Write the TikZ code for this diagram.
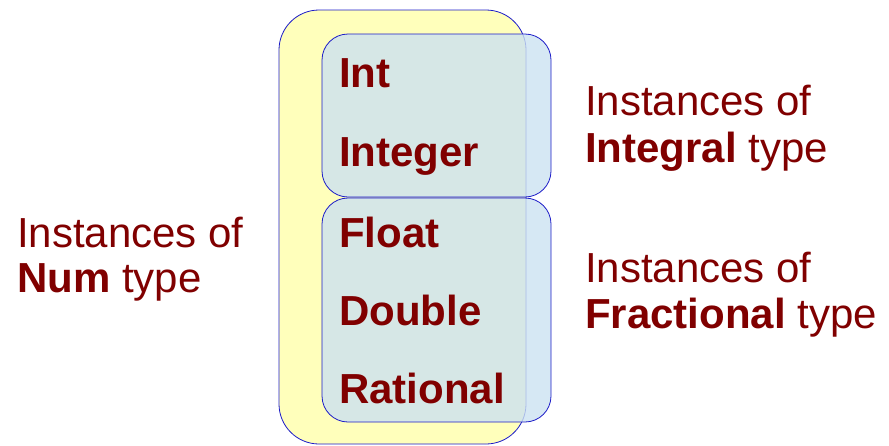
\documentclass[tikz,border=0pt]{standalone}
\usepackage{fontspec}
\setmainfont{Liberation Sans}
\usepackage{xcolor}
\usetikzlibrary{positioning}
\definecolor{TypeRed}{HTML}{800000}
\definecolor{EdgeBlue}{HTML}{1C1CC8}
\definecolor{NumFill}{HTML}{FFFFBB}
\definecolor{SubFill}{HTML}{CCE2F1}
\begin{document}
\begin{tikzpicture}[x=1pt,y=-1pt,
    every node/.style={font=\fontsize{42}{46}\selectfont, text=TypeRed,
                       inner sep=0pt, anchor=base west},
    numbox/.style={draw=EdgeBlue, thick, fill=NumFill, rounded corners=40pt,
                   anchor=center, minimum width=247pt, minimum height=434pt},
    subbox/.style={draw=EdgeBlue, thick, fill=SubFill, fill opacity=0.8,
                   rounded corners=26pt, anchor=center, minimum width=229pt},
    inst/.style={font=\fontsize{42}{46}\selectfont\bfseries}]
  \useasboundingbox (0,0) rectangle (889,445);
  % boxes
  \node[numbox] (num) at (402.5,227) {};
  \node[subbox, minimum height=163pt] (integral) at (436.5,115.5) {};
  \node[subbox, minimum height=224pt] (fractional) at (436.5,310) {};
  % instances
  \node[inst] (int) at (339,87) {Int};
  \node[inst] (integer) at (339,166) {Integer};
  \node[inst] (float) at (339,247) {Float};
  \node[inst] (double) at (339,325) {Double};
  \node[inst] (rational) at (339,403) {Rational};
  % class labels
  \node (numl1) at (17,247) {Instances of};
  \node (numl2) at (17,292) {\textbf{Num} type};
  \node (intl1) at (585,115) {Instances of};
  \node (intl2) at (585,162) {\textbf{Integral} type};
  \node (frl1) at (585,282) {Instances of};
  \node (frl2) at (585,328) {\textbf{Fractional} type};
\end{tikzpicture}
\end{document}
